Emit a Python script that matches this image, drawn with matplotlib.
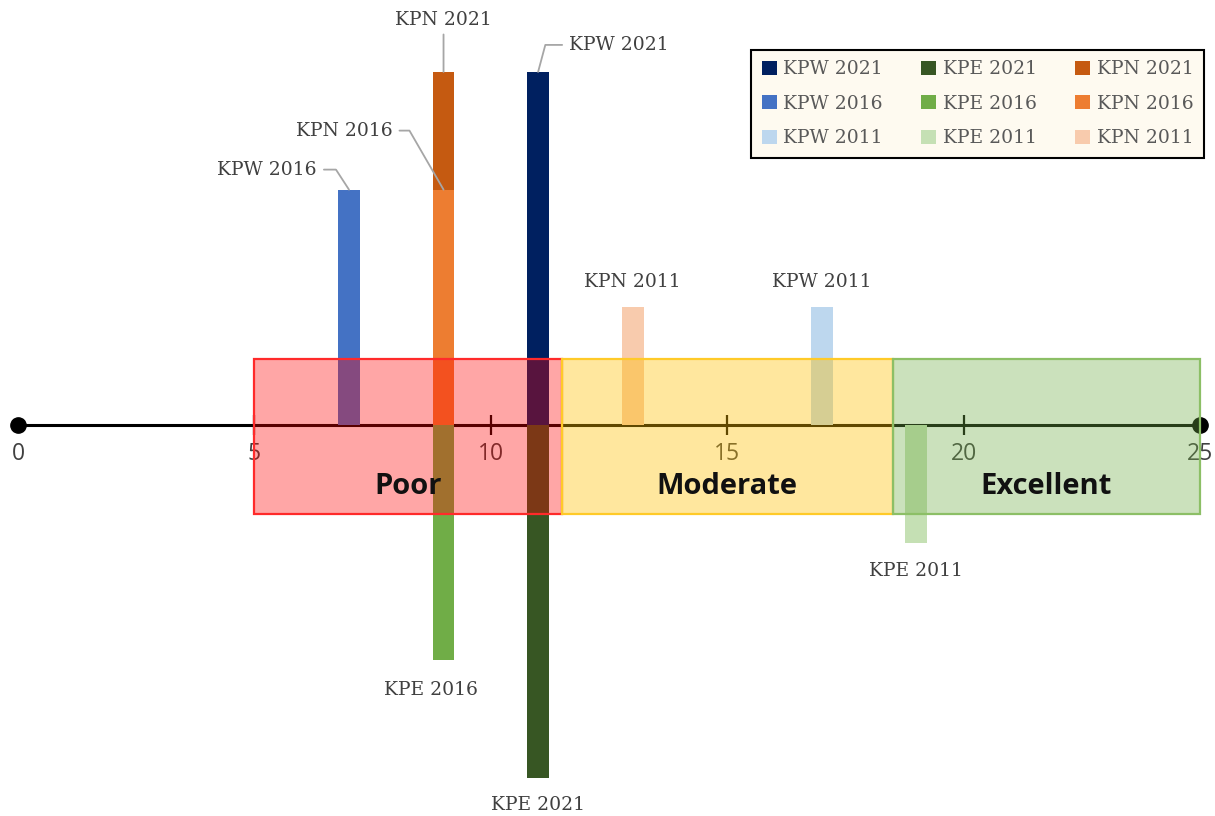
import matplotlib

matplotlib.use("Agg")
import matplotlib.pyplot as plt
from matplotlib.patches import Rectangle

# series data
series = ["KPW 2021", "KPW 2016", "KPW 2011",
          "KPE 2021", "KPE 2016", "KPE 2011",
          "KPN 2021", "KPN 2016", "KPN 2011"]
positions = [11, 7, 17, 11, 9, 19, 9, 9, 13]
values = [3, 2, 1, -3, -2, -1, 3, 2, 1]
colors = ["#002060", "#4472C4", "#BDD7EE",
          "#375623", "#70AD47", "#C5E0B4",
          "#C55A11", "#ED7D31", "#F8CBAD"]

# label offsets in pixels (dx, dy) and leader angle (None = no leader)
label_offsets = {
    "KPW 2021": (31, 27, "left", 75),
    "KPW 2016": (-32, 20, "right", 123),
    "KPW 2011": (0, 25, "center", None),
    "KPE 2021": (0, -27, "center", None),
    "KPE 2016": (-13, -30, "center", None),
    "KPE 2011": (0, -28, "center", None),
    "KPN 2021": (0, 52, "center", "straight"),
    "KPN 2016": (-51, 59, "right", 120),
    "KPN 2011": (0, 25, "center", None),
}

# rating bands
band_edges = [5, 11.5, 18.5, 25]
band_names = ["Poor", "Moderate", "Excellent"]
band_fill = [("#FF0000", 0.35), ("#FFC000", 0.38), ("#70AD47", 0.36)]
band_edge = ["#FF2A2A", "#FFCA28", "#8CBF66"]

tick_values = [0, 5, 10, 15, 20, 25]

fig = plt.figure(figsize=(12.15, 8.16), dpi=100)
ax = fig.add_axes([0, 0, 1, 1])
ax.set_xlim(-0.381, 25.317)
ax.set_ylim(-3.322, 3.611)
ax.axis("off")

serif = "DejaVu Serif"
lab_size = 13.5

# number line
ax.plot([tick_values[0], tick_values[-1]], [0, 0], color="black", lw=2.2,
        marker="o", markersize=11, zorder=1)
ax.vlines(tick_values[1:-1], -0.085, 0.085, color="black", lw=1.6, zorder=1)
for t in tick_values:
    ax.text(t, -0.245, str(t), ha="center", va="center", fontsize=16.5,
            family="Open Sans", color="#404040", zorder=1)

# bars
bars = []
for name, x, v, c in zip(series, positions, values, colors):
    b = ax.bar(x, v, width=0.46, color=c, label=name, zorder=2)
    bars.append(b[0])

    dx, dy, ha, leader = label_offsets[name]
    arrow = None
    if leader == "straight":
        arrow = dict(arrowstyle="-", color="#A6A6A6", lw=1.3,
                     shrinkA=2, shrinkB=0)
    elif leader is not None:
        arrow = dict(arrowstyle="-", color="#A6A6A6", lw=1.3,
                     shrinkA=3, shrinkB=0,
                     connectionstyle=f"angle,angleA=0,angleB={leader},rad=0")
    ax.annotate(name, xy=(x, v), xytext=(dx, dy), textcoords="offset pixels",
                ha=ha, va="center", fontsize=lab_size, family=serif,
                color="#404040", arrowprops=arrow, zorder=5)

# bands on top
for i, nm in enumerate(band_names):
    x0, x1 = band_edges[i], band_edges[i + 1]
    fc, fa = band_fill[i]
    ax.add_patch(Rectangle((x0, -0.756), x1 - x0, 1.316, facecolor=fc,
                           alpha=fa, edgecolor="none", zorder=3))
    ax.add_patch(Rectangle((x0, -0.756), x1 - x0, 1.316, facecolor="none",
                           edgecolor=band_edge[i], lw=1.6, zorder=3))
    ax.text((x0 + x1) / 2, -0.52, nm, ha="center", va="center", fontsize=21,
            family="Open Sans", fontweight="bold", color="#111111", zorder=4)

leg = ax.legend(handles=bars, labels=series, ncol=3, loc="upper right",
                bbox_to_anchor=(1204 / 1215, 1 - 50 / 816),
                bbox_transform=fig.transFigure,
                prop={"family": serif, "size": lab_size},
                handlelength=0.8, handleheight=0.8, handletextpad=0.35,
                columnspacing=2.05, labelspacing=0.88, borderpad=0.55,
                borderaxespad=0, frameon=True, fancybox=False,
                facecolor="#FEFAF0", edgecolor="black", framealpha=1)
leg.get_frame().set_linewidth(1.5)
for t in leg.get_texts():
    t.set_color("#595959")

fig.savefig("out.png", dpi=100)
plt.close(fig)
